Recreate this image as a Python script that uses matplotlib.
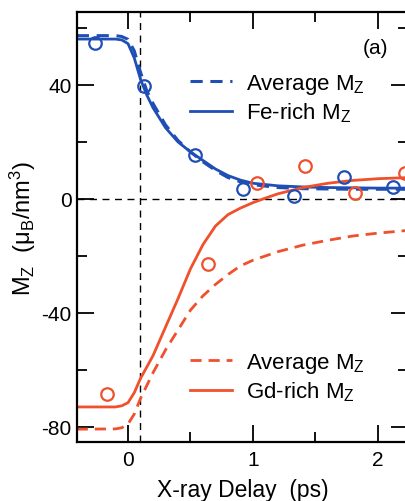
import numpy as np
import matplotlib
matplotlib.use('Agg')
import matplotlib.pyplot as plt

plt.rcParams['font.family'] = ['Liberation Sans', 'DejaVu Sans']
plt.rcParams['mathtext.default'] = 'regular'
plt.rcParams['axes.unicode_minus'] = False

BLUE = '#1f4fb4'
RED = '#f0502c'

# measured points (open circles)
fe_x = [-0.26, 0.13, 0.54, 0.92, 1.33, 1.73, 2.12]
fe_y = [54.7, 39.6, 15.4, 3.5, 1.1, 7.7, 4.2]
gd_x = [-0.17, 0.64, 1.03, 1.42, 1.82, 2.22]
gd_y = [-68.4, -22.7, 5.6, 11.5, 2.0, 9.2]

# model curves
fe_avg_x = [-0.41, -0.1, -0.05, 0.0, 0.05, 0.1, 0.15, 0.2, 0.3, 0.4, 0.5, 0.6, 0.7, 0.8, 0.9, 1.0, 1.2, 1.4, 1.6, 1.8, 2.0, 2.25]
fe_avg_y = [57.3, 57.3, 57.0, 56.0, 52.0, 44.5, 38.0, 33.5, 26.0, 20.5, 16.5, 13.0, 10.0, 7.5, 6.0, 5.0, 4.0, 3.6, 3.5, 3.4, 3.4, 3.4]
fe_rich_x = [-0.41, -0.1, -0.05, 0.0, 0.05, 0.1, 0.15, 0.2, 0.3, 0.4, 0.5, 0.6, 0.7, 0.8, 0.9, 1.0, 1.2, 1.4, 1.6, 1.8, 2.0, 2.25]
fe_rich_y = [56.1, 56.1, 55.8, 54.5, 49.5, 42.0, 36.5, 32.0, 25.0, 20.0, 16.5, 13.5, 10.5, 8.2, 6.6, 5.5, 4.6, 4.2, 4.0, 3.9, 3.8, 3.8]
gd_avg_x = [-0.41, -0.1, -0.05, 0.0, 0.05, 0.1, 0.2, 0.3, 0.4, 0.5, 0.6, 0.7, 0.8, 0.9, 1.0, 1.2, 1.4, 1.6, 1.8, 2.0, 2.25]
gd_avg_y = [-80.8, -80.7, -80.3, -79.0, -75.5, -70.0, -61.0, -53.0, -46.0, -39.0, -34.0, -30.0, -26.5, -23.5, -21.5, -18.5, -16.2, -14.5, -13.0, -12.0, -11.0]
gd_rich_x = [-0.41, -0.1, -0.05, 0.0, 0.05, 0.1, 0.2, 0.3, 0.4, 0.5, 0.6, 0.7, 0.8, 0.9, 1.0, 1.1, 1.2, 1.4, 1.6, 1.8, 2.0, 2.25]
gd_rich_y = [-73.0, -73.0, -72.6, -71.5, -68.0, -63.0, -55.0, -45.0, -35.0, -24.5, -16.0, -9.5, -5.5, -3.2, -1.3, 0.3, 1.8, 4.0, 5.5, 6.5, 7.1, 7.5]

fig = plt.figure(figsize=(4.06, 5.02), dpi=100)
ax = fig.add_axes([77/406, 59/502, 331/406, 430/502])

ax.axhline(0, color='k', lw=1.0, ls=(0, (5, 4)), zorder=1)
ax.axvline(0.1, color='k', lw=1.0, ls=(0, (5, 4)), zorder=1)

l1, = ax.plot(fe_avg_x, fe_avg_y, color=BLUE, lw=2.2, ls=(0, (4, 2.5)), label='Average M$_Z$')
l2, = ax.plot(fe_rich_x, fe_rich_y, color=BLUE, lw=2.0, label='Fe-rich M$_Z$')
l3, = ax.plot(gd_avg_x, gd_avg_y, color=RED, lw=2.0, ls=(0, (4, 2.5)), label='Average M$_Z$')
l4, = ax.plot(gd_rich_x, gd_rich_y, color=RED, lw=2.0, label='Gd-rich M$_Z$')
ax.plot(fe_x, fe_y, 'o', mfc='none', mec=BLUE, ms=9, mew=1.6)
ax.plot(gd_x, gd_y, 'o', mfc='none', mec=RED, ms=9, mew=1.6)

ax.set_xlim(-0.408, 2.24)
ax.set_ylim(-85.3, 65.6)
ax.set_xticks([0, 1, 2])
ax.set_xticks([0.5, 1.5], minor=True)
ax.set_yticks([-80, -40, 0, 40])
ax.set_yticks([-60, -20, 20, 60], minor=True)
ax.tick_params(which='both', direction='in', top=True, right=True, width=1.3, labelsize=15)
ax.tick_params(which='major', length=12)
ax.tick_params(which='minor', length=7.5)
ax.tick_params(axis='x', pad=6)
ax.tick_params(axis='y', pad=4)
for s in ax.spines.values():
    s.set_linewidth(1.6)

ax.set_xlabel('X-ray Delay  (ps)', fontsize=16.5, labelpad=6)
ax.set_ylabel('M$_Z$  (μ$_B$/nm$^3$)', fontsize=17)
ax.yaxis.set_label_coords(-0.118, 0.5)

ax.text(388/406, 1 - 48/502, '(a)', transform=fig.transFigure, fontsize=15, ha='right', va='center')

fig.legend(handles=[l1, l2], loc='upper left', bbox_to_anchor=(190/406, 1 - 73/502),
           frameon=False, fontsize=16, handlelength=1.9, handletextpad=0.6,
           labelspacing=0.2, borderpad=0, borderaxespad=0)
fig.legend(handles=[l3, l4], loc='upper left', bbox_to_anchor=(190/406, 1 - 352/502),
           frameon=False, fontsize=16, handlelength=1.9, handletextpad=0.6,
           labelspacing=0.2, borderpad=0, borderaxespad=0)

fig.savefig('out.png', dpi=100)
